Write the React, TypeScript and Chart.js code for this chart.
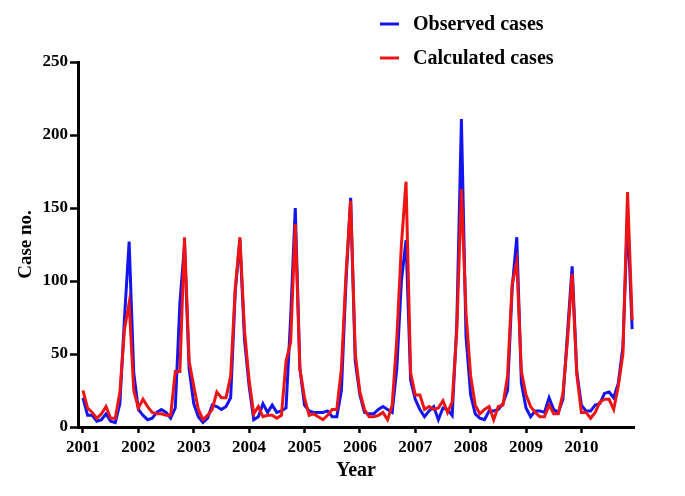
import React, { useEffect, useRef } from "react";
import { Chart, registerables } from "chart.js";

Chart.register(...registerables);

const START_YEAR = 2001;
const YEAR_TICKS = [2001, 2002, 2003, 2004, 2005, 2006, 2007, 2008, 2009, 2010];

const observed = [
  20, 8, 8, 4, 5, 9, 4, 3, 16, 75, 127, 37,
  12, 8, 5, 6, 10, 12, 10, 6, 13, 85, 125, 40,
  16, 7, 3, 6, 15, 14, 12, 14, 20, 93, 128, 60,
  28, 5, 7, 16, 10, 15, 10, 11, 13, 75, 150, 40,
  15, 11, 10, 10, 10, 11, 7, 7, 25, 100, 157, 45,
  22, 10, 9, 9, 12, 14, 12, 10, 40, 100, 128, 32,
  19, 12, 7, 11, 14, 5, 13, 12, 8, 70, 211, 62,
  22, 9, 6, 5, 11, 11, 12, 16, 25, 95, 130, 30,
  13, 7, 11, 11, 10, 20, 12, 10, 19, 65, 110, 38,
  15, 11, 11, 15, 16, 23, 24, 20, 30, 55, 145, 67,
];

const calculated = [
  25, 13, 10, 6, 9, 14, 6, 6, 24, 67, 85, 25,
  13, 19, 14, 10, 9, 9, 8, 8, 38, 38, 130, 45,
  28, 12, 5, 8, 12, 24, 20, 20, 35, 95, 130, 66,
  32, 9, 14, 7, 8, 8, 6, 8, 45, 58, 139, 40,
  20, 8, 9, 7, 5, 8, 12, 12, 40, 105, 155, 50,
  24, 12, 7, 7, 8, 10, 5, 15, 60, 125, 168, 37,
  22, 22, 12, 14, 12, 13, 18, 10, 17, 66, 163, 78,
  35, 15, 9, 12, 14, 5, 14, 15, 35, 98, 113, 38,
  22, 14, 10, 7, 7, 15, 9, 9, 23, 60, 105, 36,
  10, 10, 6, 10, 17, 19, 19, 12, 28, 50, 161, 73,
];

const SERIES_LABELS = ["Observed cases", "Calculated cases"];
const SERIES_COLORS = ["#1414ee", "#ee1414"];
const Y_TITLE = "Case no.";
const X_TITLE = "Year";

const FONT = '"Liberation Serif", "Times New Roman", serif';

function toPoints(values: number[]) {
  return values.map((v, i) => ({ x: START_YEAR + i / 12, y: v }));
}

const legendPlugin = {
  id: "customLegend",
  afterDraw(chart: any) {
    const ctx = chart.ctx;
    ctx.save();
    const rows = [24, 58];
    SERIES_LABELS.forEach((label, k) => {
      const y = rows[k];
      ctx.strokeStyle = SERIES_COLORS[k];
      ctx.lineWidth = 3;
      ctx.beginPath();
      ctx.moveTo(380, y);
      ctx.lineTo(399, y);
      ctx.stroke();
      ctx.fillStyle = "#000";
      ctx.font = `bold 20px ${FONT}`;
      ctx.textBaseline = "middle";
      ctx.textAlign = "left";
      ctx.fillText(label, 413, y + 1);
    });
    ctx.restore();
  },
};

export default function App() {
  const canvasRef = useRef<HTMLCanvasElement | null>(null);

  useEffect(() => {
    document.body.style.margin = "0";
    const canvas = canvasRef.current;
    if (!canvas) return;
    const chart = new Chart(canvas, {
      type: "line",
      data: {
        datasets: [
          {
            label: SERIES_LABELS[0],
            data: toPoints(observed),
            borderColor: SERIES_COLORS[0],
            backgroundColor: SERIES_COLORS[0],
            borderWidth: 3,
            pointRadius: 0,
            tension: 0,
            order: 2,
          },
          {
            label: SERIES_LABELS[1],
            data: toPoints(calculated),
            borderColor: SERIES_COLORS[1],
            backgroundColor: SERIES_COLORS[1],
            borderWidth: 3,
            pointRadius: 0,
            tension: 0,
            order: 1,
          },
        ],
      },
      options: {
        responsive: false,
        animation: false,
        devicePixelRatio: 1,
        layout: { padding: { left: 0, right: 51, top: 62, bottom: 0 } },
        plugins: {
          legend: { display: false },
          tooltip: { enabled: false },
        },
        scales: {
          x: {
            type: "linear",
            min: 2000.91,
            max: 2010.95,
            afterFit: (scale: any) => {
              scale.height = 69;
            },
            afterBuildTicks: (scale: any) => {
              scale.ticks = YEAR_TICKS.map((v) => ({ value: v }));
            },
            ticks: {
              includeBounds: false,
              autoSkip: false,
              maxRotation: 0,
              padding: 4,
              color: "#000",
              font: { family: FONT, size: 17, weight: "bold" },
              callback: (v: any) => String(v),
            },
            grid: {
              drawOnChartArea: false,
              drawTicks: true,
              tickLength: 6,
              tickWidth: 2.5,
              tickColor: "#000",
            },
            border: { display: true, color: "#000", width: 3 },
            title: {
              display: true,
              text: X_TITLE,
              color: "#000",
              font: { family: FONT, size: 20, weight: "bold" },
              padding: { top: 0, bottom: 13 },
            },
          },
          y: {
            type: "linear",
            min: 0,
            max: 250,
            afterFit: (scale: any) => {
              scale.width = 78;
            },
            ticks: {
              stepSize: 50,
              padding: 2,
              color: "#000",
              font: { family: FONT, size: 17, weight: "bold" },
            },
            grid: {
              drawOnChartArea: false,
              drawTicks: true,
              tickLength: 8,
              tickWidth: 2.5,
              tickColor: "#000",
            },
            border: { display: true, color: "#000", width: 3 },
            title: {
              display: true,
              text: Y_TITLE,
              color: "#000",
              font: { family: FONT, size: 19, weight: "bold" },
              padding: { top: 15, bottom: 0 },
            },
          },
        },
      },
      plugins: [legendPlugin],
    });
    return () => chart.destroy();
  }, []);

  return (
    <div style={{ position: "absolute", left: 0, top: 0, width: 685, height: 496, background: "#fff" }}>
      <canvas ref={canvasRef} width={685} height={496} style={{ width: 685, height: 496 }} />
    </div>
  );
}
